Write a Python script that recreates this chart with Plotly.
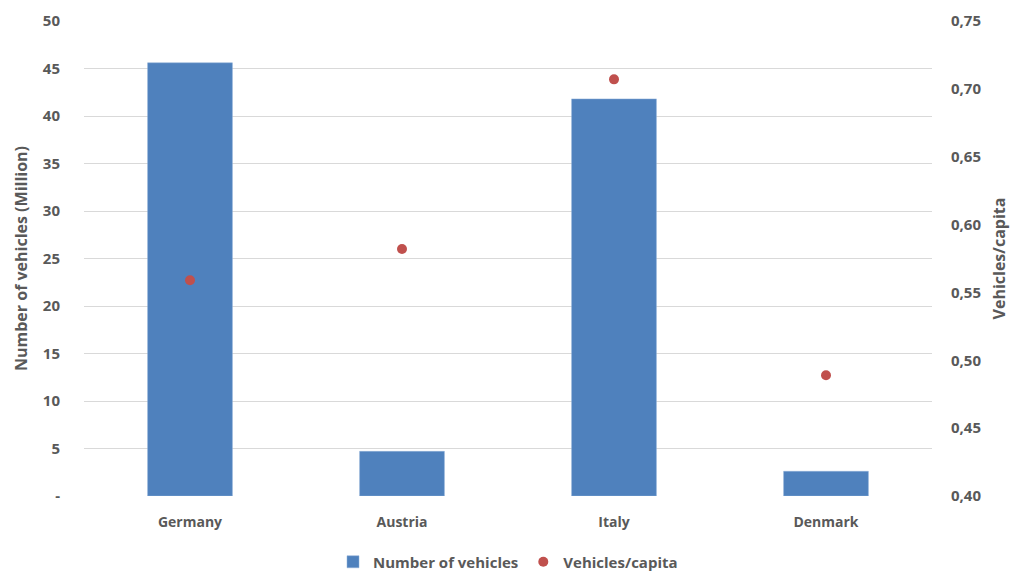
import plotly.graph_objects as go

countries = ["Germany", "Austria", "Italy", "Denmark"]
vehicles_million = [45.6, 4.7, 41.8, 2.6]
vehicles_per_capita = [0.559, 0.582, 0.707, 0.489]
left_ticks = [0, 5, 10, 15, 20, 25, 30, 35, 40, 45, 50]
left_tick_text = ["-", "5", "10", "15", "20", "25", "30", "35", "40", "45", "50"]
right_ticks = [0.40, 0.45, 0.50, 0.55, 0.60, 0.65, 0.70, 0.75]

FONT = "Open Sans"
GRAY = "#595959"

fig = go.Figure()
fig.add_trace(go.Bar(
    x=countries, y=vehicles_million, name="Number of vehicles",
    marker=dict(color="#4f81bd", line=dict(color="#8fb0d8", width=0.5)),
    width=0.4, yaxis="y",
))
fig.add_trace(go.Scatter(
    x=countries, y=vehicles_per_capita, name="Vehicles/capita",
    mode="markers", marker=dict(color="#c0504d", size=10),
    yaxis="y2",
))

fig.update_layout(
    width=1010, height=571,
    margin=dict(l=84, r=78, t=21, b=75, autoexpand=False),
    paper_bgcolor="white", plot_bgcolor="white",
    separators=",.",
    font=dict(family=FONT, color=GRAY, size=15),
    showlegend=True,
    legend=dict(orientation="h", x=0.5, xanchor="center", y=-0.139, yanchor="middle",
                font=dict(family=FONT, size=15, color=GRAY, weight="bold"),
                traceorder="normal", itemwidth=30),
    xaxis=dict(showgrid=False, showline=False, ticks="", automargin=False,
               tickfont=dict(family=FONT, size=14, color=GRAY, weight="bold"),
               ticklabelstandoff=16),
    yaxis=dict(range=[0, 50], tickvals=left_ticks, ticktext=left_tick_text,
               showgrid=True, gridcolor="#d9d9d9", gridwidth=1, automargin=False,
               zeroline=False, showline=False, ticks="",
               tickfont=dict(family=FONT, size=15, color=GRAY, weight="bold"),
               ticklabelstandoff=23,
               title=dict(text="Number of vehicles (Million)", standoff=11,
                          font=dict(family=FONT, size=16, color=GRAY, weight="bold"))),
    yaxis2=dict(range=[0.40, 0.75], tickvals=right_ticks, tickformat=".2f",
                overlaying="y", side="right", showgrid=False, zeroline=False,
                showline=False, ticks="", automargin=False,
                tickfont=dict(family=FONT, size=15, color=GRAY, weight="bold"),
                ticklabelstandoff=18,
                title=dict(text="Vehicles/capita", standoff=13,
                           font=dict(family=FONT, size=16, color=GRAY, weight="bold"))),
    bargap=0.6,
)

fig.write_html("out.html", config={"displayModeBar": False},
               post_script="document.body.style.margin='0';document.body.style.overflow='hidden';")
